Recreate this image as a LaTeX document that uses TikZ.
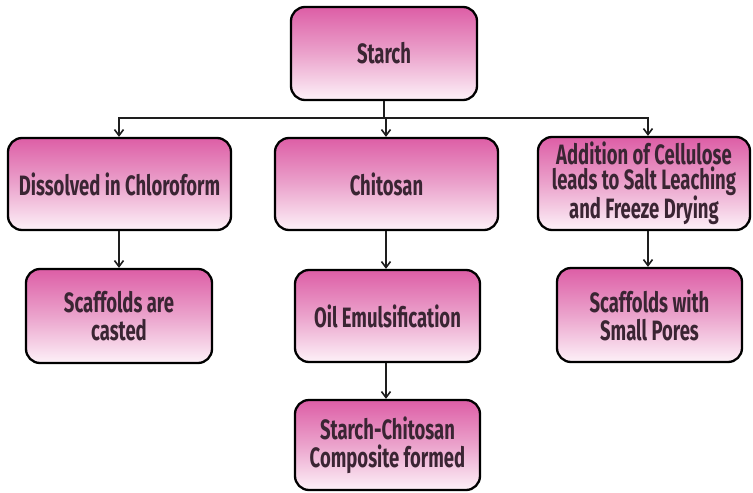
\documentclass[tikz,border=0pt]{standalone}
\usepackage{fontspec}
\setmainfont{Fira Sans}[FakeStretch=0.66]
\usetikzlibrary{arrows.meta}

\definecolor{boxtop}{HTML}{DD5EA6}
\definecolor{boxmid}{HTML}{EBA3CC}
\definecolor{boxbot}{HTML}{FDF1F8}
\definecolor{boxtext}{HTML}{3A2533}
\definecolor{linecol}{HTML}{1E1E1E}

\tikzset{
  flowbox/.style={
    draw=black, line width=2.3pt, rounded corners=14pt,
    top color=boxtop, bottom color=boxbot, middle color=boxmid,
    text=boxtext, align=center, inner sep=2pt,
    font=\bfseries\fontsize{28}{28}\selectfont
  },
  tightbox/.style={flowbox, font=\bfseries\fontsize{28}{24.5}\selectfont},
  link/.style={draw=linecol, line width=1.6pt},
  arrowlink/.style={link, -{Straight Barb[length=6pt,width=9pt,line width=1.6pt]}}
}

\begin{document}
\begin{tikzpicture}[x=1pt,y=-1pt]
  \useasboundingbox (0,0) rectangle (753,493);

  % top level
  \node[flowbox, minimum width=186pt, minimum height=93pt] (starch) at (384,53.5) {Starch};

  % second row
  \node[flowbox, minimum width=223pt, minimum height=92pt] (dissolved) at (119.5,184) {Dissolved in Chloroform};
  \node[flowbox, minimum width=223pt, minimum height=92pt] (chitosan) at (386.5,184) {Chitosan};
  \node[tightbox, minimum width=212pt, minimum height=93pt] (addition) at (644,183.5)
    {Addition of Cellulose\\leads to Salt Leaching\\and Freeze Drying};

  % third row
  \node[flowbox, minimum width=186pt, minimum height=94pt] (casted) at (119,316) {Scaffolds are\\casted};
  \node[flowbox, minimum width=185pt, minimum height=92pt] (oil) at (387.5,316) {Oil Emulsification};
  \node[flowbox, minimum width=185pt, minimum height=94pt] (pores) at (649.5,315) {Scaffolds with\\Small Pores};

  % fourth row
  \node[flowbox, minimum width=185pt, minimum height=90pt] (composite) at (387.5,445) {Starch-Chitosan\\Composite formed};

  % column guides for the connectors
  \coordinate (split) at (384,118);
  \coordinate (lcol) at (119,118);
  \coordinate (mcol) at (386,118);
  \coordinate (rcol) at (648,118);

  % branching from the top box
  \draw[link] (starch.south) -- (split);
  \draw[arrowlink] (split) -| (dissolved.north -| lcol);
  \draw[arrowlink] (split) -| (chitosan.north -| mcol);
  \draw[arrowlink] (split) -| (addition.north -| rcol);

  % vertical chains
  \draw[arrowlink] (dissolved.south -| lcol) -- (casted.north -| lcol);
  \draw[arrowlink] (chitosan.south -| mcol) -- (oil.north -| mcol);
  \draw[arrowlink] (oil.south -| mcol) -- (composite.north -| mcol);
  \draw[arrowlink] (addition.south -| rcol) -- (pores.north -| rcol);
\end{tikzpicture}
\end{document}
